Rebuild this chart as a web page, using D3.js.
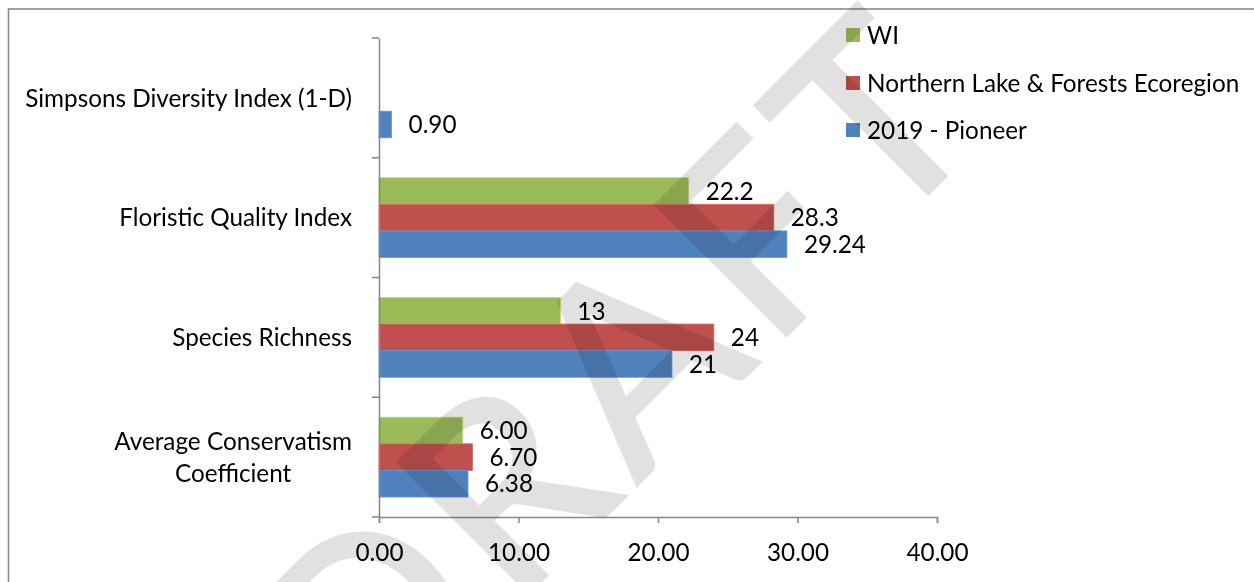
<!DOCTYPE html>
<html>
<head>
<meta charset="utf-8">
<script src="https://cdn.jsdelivr.net/npm/d3@7"></script>
<style>
  html, body { margin: 0; padding: 0; background: #fff; }
  svg { display: block; }
</style>
</head>
<body>
<svg id="chart" width="1254" height="582"></svg>
<script>
// ---------------- data ----------------
const categories = ["Simpsons Diversity Index (1-D)", "Floristic Quality Index", "Species Richness", "Average Conservatism\nCoefficient"];
const seriesNames = ["WI", "Northern Lake & Forests Ecoregion", "2019 - Pioneer"];
const seriesColors = ["#9BBB59", "#C0504D", "#4F81BD"];
const wiValues = [null, 22.2, 13, 6.00];
const nlfValues = [null, 28.3, 24, 6.70];
const pioneerValues = [0.90, 29.24, 21, 6.38];
const wiLabels = [null, "22.2", "13", "6.00"];
const nlfLabels = [null, "28.3", "24", "6.70"];
const pioneerLabels = ["0.90", "29.24", "21", "6.38"];
const xTicks = [0, 10, 20, 30, 40];
const xTickLabels = ["0.00", "10.00", "20.00", "30.00", "40.00"];
const watermarkText = "DRAFT";

// ---------------- layout ----------------
const svg = d3.select("#chart");
const plot = { left: 379, right: 937, top: 38, bottom: 517 };
const axisColor = "#868686";
const fontFamily = "Lato, 'Open Sans', sans-serif";

// fit font size so the longest category label matches the reference width
const probe = svg.append("text").attr("font-family", fontFamily).attr("font-size", 100).text(categories[0]);
const probeW = probe.node().getComputedTextLength();
probe.remove();
const fs = 100 * 327 / probeW;

// frame
svg.append("rect").attr("x", 8.5).attr("y", 9).attr("width", 1300).attr("height", 700)
  .attr("fill", "none").attr("stroke", "#8a8a8a").attr("stroke-width", 1.6);

const x = d3.scaleLinear().domain([0, 40]).range([plot.left, plot.right]);
const y = d3.scaleBand().domain(categories).range([plot.top, plot.bottom]).paddingInner(0).paddingOuter(0);
const inner = d3.scaleBand().domain(seriesNames).range([0, y.bandwidth()]).paddingInner(0).paddingOuter(0.75);

const seriesData = [
  { name: seriesNames[0], values: wiValues, labels: wiLabels, color: seriesColors[0] },
  { name: seriesNames[1], values: nlfValues, labels: nlfLabels, color: seriesColors[1] },
  { name: seriesNames[2], values: pioneerValues, labels: pioneerLabels, color: seriesColors[2] }
];

// bars
const gBars = svg.append("g");
seriesData.forEach(s => {
  const rows = categories.map((c, i) => ({ c, v: s.values[i], l: s.labels[i] })).filter(d => d.v != null);
  gBars.selectAll(null).data(rows).enter().append("rect")
    .attr("x", x(0))
    .attr("y", d => y(d.c) + inner(s.name))
    .attr("width", d => x(d.v) - x(0))
    .attr("height", inner.bandwidth())
    .attr("fill", s.color)
    .attr("stroke", d3.color(s.color).brighter(0.5))
    .attr("stroke-width", 0.8);
  gBars.selectAll(null).data(rows).enter().append("text")
    .attr("x", d => x(d.v) + 17)
    .attr("y", d => y(d.c) + inner(s.name) + inner.bandwidth() / 2)
    .attr("dy", "0.36em")
    .attr("font-family", fontFamily).attr("font-size", fs).attr("fill", "#000")
    .text(d => d.l);
});

// y axis
const yAxis = d3.axisLeft(y).tickSize(0).tickFormat("");
const gy = svg.append("g").attr("transform", `translate(${plot.left},0)`).call(yAxis);
gy.select(".domain").attr("stroke", axisColor).attr("stroke-width", 1.5);
const bounds = categories.map(c => y(c)).concat([plot.bottom]);
svg.append("g").selectAll("line").data(bounds).enter().append("line")
  .attr("x1", plot.left - 7).attr("x2", plot.left)
  .attr("y1", d => d).attr("y2", d => d)
  .attr("stroke", axisColor).attr("stroke-width", 1.5);

// category labels
const gCat = svg.append("g");
categories.forEach(c => {
  const lines = c.split("\n");
  const t = gCat.append("text").attr("font-family", fontFamily).attr("font-size", fs).attr("fill", "#000");
  const lh = 32;
  lines.forEach((ln, i) => {
    t.append("tspan").attr("y", y(c) + y.bandwidth() / 2 + (i - (lines.length - 1) / 2) * lh).attr("dy", "0.36em").text(ln);
  });
  const widths = t.selectAll("tspan").nodes().map(n => n.getComputedTextLength());
  const maxW = d3.max(widths);
  t.attr("text-anchor", "middle");
  t.selectAll("tspan").attr("x", 352 - maxW / 2);
});

// x axis
const xAxis = d3.axisBottom(x).tickValues(xTicks).tickSize(6).tickFormat((d, i) => xTickLabels[i]);
const gx = svg.append("g").attr("transform", `translate(0,${plot.bottom})`).call(xAxis);
gx.select(".domain").attr("stroke", axisColor).attr("stroke-width", 1.5);
gx.selectAll(".tick line").attr("stroke", axisColor).attr("stroke-width", 1.5);
gx.selectAll(".tick text").attr("font-family", fontFamily).attr("font-size", fs).attr("fill", "#000")
  .attr("y", 35).attr("dy", "0.36em");

// legend
const legendYs = [35, 83, 130];
const gLeg = svg.append("g");
seriesData.forEach((s, i) => {
  gLeg.append("rect").attr("x", 846).attr("y", legendYs[i] - 7).attr("width", 14).attr("height", 14).attr("fill", s.color);
  gLeg.append("text").attr("x", 867).attr("y", legendYs[i]).attr("dy", "0.36em")
    .attr("font-family", fontFamily).attr("font-size", fs).attr("fill", "#000").text(s.name);
});

// watermark
const wm = svg.append("text")
  .attr("font-family", fontFamily).attr("font-size", 258)
  .attr("letter-spacing", 14)
  .attr("fill", "#e1e1e1")
  .attr("stroke", "#e1e1e1").attr("stroke-width", 3.5).attr("stroke-linejoin", "miter")
  .style("mix-blend-mode", "multiply")
  .text(watermarkText);
const node = wm.node();
const uBefore = node.getSubStringLength(0, 4);
const tW = node.getSubStringLength(4, 1);
const uT = uBefore + (tW - 14) / 2;
const c45 = Math.SQRT1_2;
const ox = 937 - uT * c45, oy = 185 + uT * c45;
wm.attr("transform", `translate(${ox},${oy}) rotate(-45)`);
</script>
</body>
</html>
